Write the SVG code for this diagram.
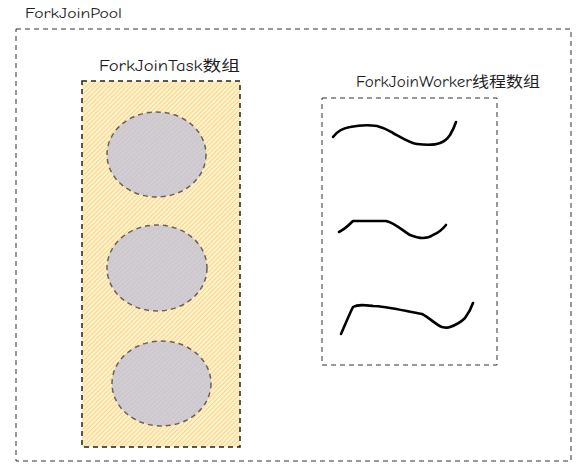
<svg xmlns="http://www.w3.org/2000/svg" width="582" height="468" viewBox="0 0 582 468">
<defs>
<pattern id="hYellow" width="3.2" height="3.2" patternUnits="userSpaceOnUse" patternTransform="rotate(45)">
<rect width="3.2" height="3.2" fill="#fff2d0"/>
<line x1="0" y1="0" x2="0" y2="3.2" stroke="#ffd27c" stroke-width="1.9"/>
</pattern>
<pattern id="hGray" width="3.4" height="3.4" patternUnits="userSpaceOnUse" patternTransform="rotate(48)">
<rect width="3.4" height="3.4" fill="#dcdae6"/>
<line x1="0.8" y1="0" x2="0.8" y2="3.4" stroke="#c5c4d8" stroke-width="1.4"/>
<line x1="2.5" y1="0" x2="2.5" y2="3.4" stroke="#d4c6b0" stroke-width="1"/>
</pattern>
<style>
.lbl{font-family:"Comic Neue","Liberation Sans","Noto Sans CJK SC",sans-serif;fill:#1e1e1e}
.box{fill:none;stroke:#333;stroke-width:1;stroke-dasharray:5 4}
.ball{fill:url(#hGray);stroke:#6a6258;stroke-width:1.5;stroke-dasharray:5 4}
.squig{fill:none;stroke:#000;stroke-width:2.6;stroke-linecap:round;stroke-linejoin:round}
</style>
</defs>
<g id="pool">
<rect class="box" x="16" y="29" width="555" height="432" stroke="#444"/>
<text class="lbl" x="25" y="18" font-size="13" textLength="97" lengthAdjust="spacingAndGlyphs">ForkJoinPool</text>
</g>
<g id="taskArray">
<text class="lbl" x="99" y="71" font-size="15" textLength="141" lengthAdjust="spacingAndGlyphs">ForkJoinTask数组</text>
<rect x="82" y="81" width="158" height="366" fill="url(#hYellow)" stroke="#222" stroke-width="1.5" stroke-dasharray="5 4"/>
<g id="task1"><ellipse class="ball" cx="156.5" cy="154.5" rx="49.5" ry="42.5"/></g>
<g id="task2"><ellipse class="ball" cx="157" cy="268" rx="50" ry="43"/></g>
<g id="task3"><ellipse class="ball" cx="161.5" cy="383.5" rx="49.5" ry="42.5"/></g>
</g>
<g id="workerArray">
<text class="lbl" x="356" y="87" font-size="15" textLength="184" lengthAdjust="spacingAndGlyphs">ForkJoinWorker线程数组</text>
<rect class="box" x="322" y="98" width="175" height="267"/>
<g id="worker1"><path class="squig" d="M333 137 C338 130 344 128 350 127 C360 125 370 125 377 126 C385 128 388 130 393 133 C402 138 410 143 417 144 C425 145 435 145 440 143 C446 141 448 138 450 135 C453 130 455 125 456 122"/></g>
<g id="worker2"><path class="squig" d="M339 232 C345 229 349 225 353 221 L386 221 C395 223 403 231 410 235 C415 237 419 238 423 238 C428 238 430 237 433 235 C438 233 442 230 446 225"/></g>
<g id="worker3"><path class="squig" d="M341 334 C345 325 349 315 353 307 C358 304 365 305 373 306 C385 306 405 311 422 314 C430 318 436 325 442 327 C446 328 448 328 450 327 C456 325 461 322 465 318 C468 314 471 309 473 303" stroke-width="2.2"/></g>
</g>
</svg>
